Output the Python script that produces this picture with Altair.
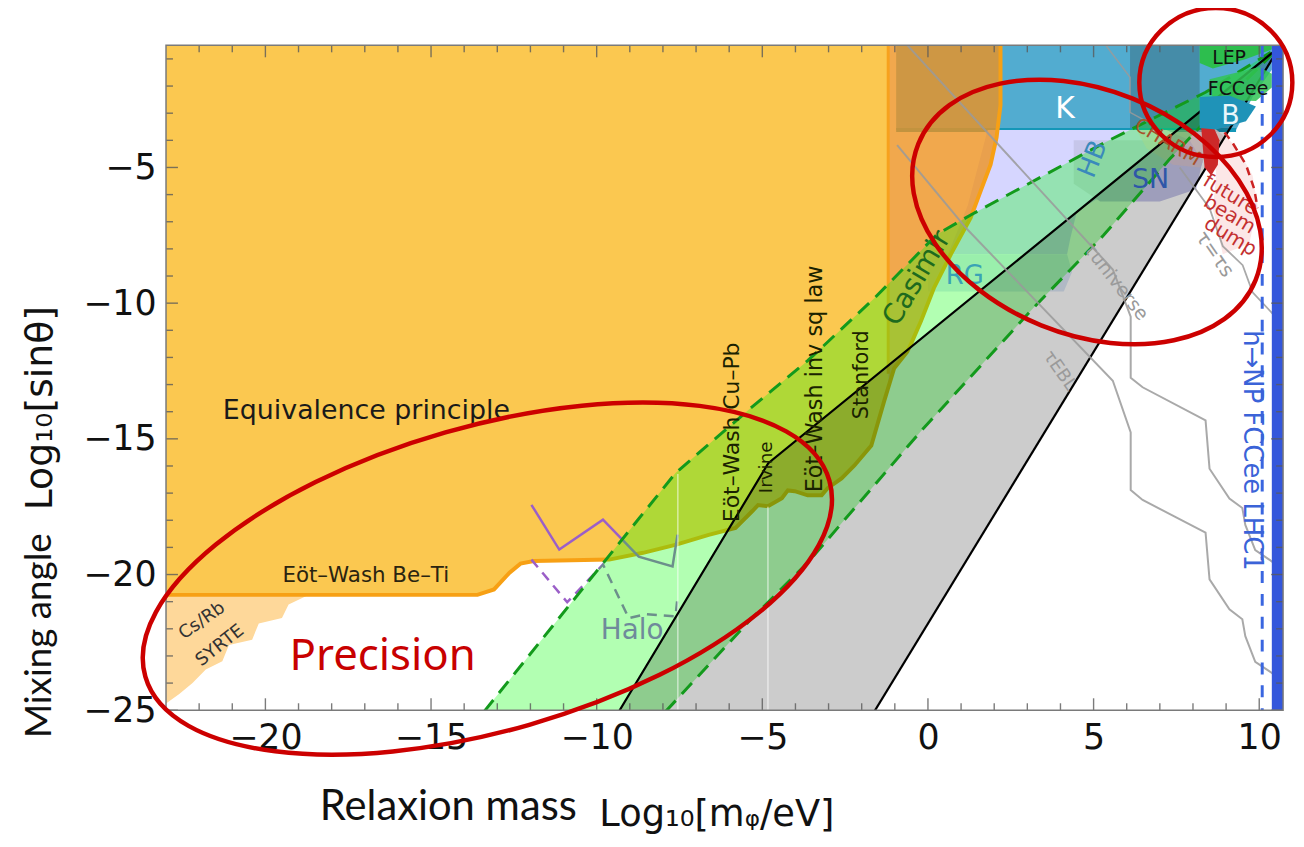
import altair as alt
import pandas as pd

# ---------------- plot geometry ----------------
W, H = 1124, 669
X_DOMAIN = [-23.0, 10.72]
Y_DOMAIN = [-25.0, -0.5]

X_MAJOR = [-20, -15, -10, -5, 0, 5, 10]
Y_MAJOR = [-25, -20, -15, -10, -5]
X_MINOR = [v for v in range(-22, 11) if v not in X_MAJOR]
Y_MINOR = [v for v in range(-24, 0) if v not in Y_MAJOR]

# ---------------- regions (log10 m/eV, log10 sin theta) ----------------
EP_X = [-23, -1.2, -1.2, -1.32, -1.71, -2.22, -2.61, -3.03, -3.21, -3.63, -4.02, -4.23, -4.41,
        -4.83, -5.13, -5.3, -5.81, -6.62, -7.6, -8.6, -9.62, -11.9, -12.3, -12.63, -13.1, -13.6, -23]
EP_Y = [-0.5, -0.5, -13.1, -13.6, -15.25, -15.98, -16.46, -16.82, -17.08, -17.08, -16.93, -16.9, -17.19,
        -17.48, -17.44, -17.66, -18.28, -18.54, -18.9, -19.2, -19.45, -19.5, -19.6, -19.93, -20.55, -20.75, -20.75]

CAS_X = [-1.2, 2.19, 2.19, 2.07, 1.89, 1.59, 1.29, 0.69, 0.18, -0.21, -0.51, -0.63, -1.02, -1.2]
CAS_Y = [-0.5, -0.5, -2.7, -3.9, -4.9, -5.87, -6.85, -8.2, -9.44, -10.66, -11.5, -11.8, -12.4, -13.1]

SY_X = [-23, -18.7, -19.3, -19.5, -20.2, -20.4, -21.1, -21.3, -21.8, -22.2, -22.6, -23]
SY_Y = [-20.75, -20.75, -21.1, -21.6, -21.8, -22.4, -22.6, -23.2, -23.5, -24.0, -24.4, -24.75]

K_X = [-0.96, 10.38, 10.38, 9.8, 9.3, -0.96]
K_Y = [-0.5, -0.5, -1.4, -2.4, -3.62, -3.62]
KDARK_X = [6.1, 8.2, 8.2, 6.1]
KDARK_Y = [-0.5, -0.5, -3.55, -3.55]

LAV_X = [1.8, 7.2, 7.9, 8.3, 8.0, 6.5, 5.2, 4.5, 4.3, 4.2, 0.6, 1.2]
LAV_Y = [-3.62, -3.62, -4.0, -4.8, -5.6, -6.0, -6.1, -6.6, -7.6, -8.2, -8.2, -6.4]
RG_X = [0.0, 4.2, 4.35, 4.1, 0.0]
RG_Y = [-8.2, -8.2, -8.85, -9.57, -9.57]
SN_X = [4.4, 7.6, 8.3, 8.1, 7.0, 5.2, 4.4]
SN_Y = [-4.0, -4.0, -4.7, -5.8, -6.25, -6.25, -5.6]
CH_X = [6.3, 8.3, 8.4, 8.2, 7.4, 6.6]
CH_Y = [-3.62, -3.62, -4.5, -5.0, -4.9, -4.3]
RB_X = [8.25, 8.6, 8.8, 8.75, 8.55, 8.35, 8.3]
RB_Y = [-3.55, -3.45, -4.0, -4.9, -5.3, -5.0, -4.3]
BD_X = [8.6, 9.3, 9.8, 9.95, 9.7, 8.9, 8.6, 8.7]
BD_Y = [-3.5, -4.2, -5.3, -6.4, -7.8, -8.2, -6.5, -5.3]
BDL_X = [8.7, 9.2, 9.6, 9.85, 9.95]
BDL_Y = [-3.3, -4.1, -4.9, -5.8, -6.5]

LEP_X = [8.2, 10.38, 10.38, 9.6, 8.6, 8.2]
LEP_Y = [-0.5, -0.5, -0.65, -1.0, -1.35, -1.15]
FCC_X = [8.5, 10.0, 10.38, 10.38, 9.9, 8.6]
FCC_Y = [-1.75, -1.3, -1.55, -2.05, -2.55, -2.5]
B_X = [8.2, 9.1, 9.9, 9.6, 8.7, 8.2]
B_Y = [-2.4, -2.35, -2.75, -3.3, -3.6, -3.55]

BLUE_X = [10.38, 10.72, 10.72, 10.38]
BLUE_Y = [-0.5, -0.5, -25, -25]
BLUE_DASH_X = [10.09, 10.09]
BLUE_DASH_Y = [-0.5, -25]

UP_X = [-13.4, -9.72, -7.62, -5.43, -3.63, -1.62, 0.27, 1.29, 5.37, 8.38, 10.62]
UP_Y = [-25.05, -19.45, -16.26, -13.95, -12.12, -9.82, -7.47, -6.75, -4.06, -2.23, -0.55]
LO_X = [-7.92, -5.43, -3.63, -0.2, 3.18, 5.3, 7.29, 9.0, 10.62]
LO_Y = [-25.05, -21.76, -19.56, -14.7, -10.18, -7.5, -4.7, -2.5, -0.55]

LB_X = [-9.33, -4.82, 10.62]
LB_Y = [-25.05, -15.9, -0.55]
RBL_X = [-1.62, 10.62]
RBL_Y = [-25.05, -0.55]

PURP_X = [-11.97, -11.13, -9.81, -8.73, -7.71, -7.56]
PURP_Y = [-17.43, -19.08, -17.98, -19.34, -19.7, -18.53]
PURPD_X = [-11.97, -10.89, -9.81, -9.03, -8.52, -7.62, -7.56]
PURPD_Y = [-19.45, -21.02, -19.63, -21.61, -21.46, -21.54, -20.84]

FAINT_X = [-7.55, -4.83]
FAINT_TOP = [-16.3, -17.5]

TU_X = [-0.62, 5.58, 6.12, 6.12, 6.48, 8.38, 8.5, 9.1, 9.49, 9.58, 9.88, 10.72]
TU_Y = [-0.5, -8.76, -10.5, -12.75, -13.1, -14.32, -16.1, -17.2, -17.55, -18.17, -19.1, -19.8]
TE_X = [-0.93, 1.17, 5.58, 6.12, 6.12, 6.48, 8.38, 8.5, 9.1, 9.49, 9.58, 9.88, 10.72]
TE_Y = [-4.18, -7.26, -12.86, -14.76, -16.89, -17.25, -18.46, -20.18, -21.28, -21.65, -22.27, -23.22, -23.9]
TS1_X = [5.37, 6.1, 6.1, 6.6]
TS1_Y = [-0.5, -1.68, -2.97, -3.3]
TS2_X = [7.6, 8.5, 8.9, 9.5, 9.8, 10.72]
TS2_Y = [-5.0, -6.5, -7.9, -8.6, -9.6, -10.8]

# ---------------- labels ----------------
LBL_TEXT = ["Equivalence principle", "Eöt–Wash Be–Ti", "Cs/Rb", "SYRTE", "Halo",
            "Eöt–Wash Cu–Pb", "Irvine", "Eöt–Wash inv sq law", "Stanford", "Casimir",
            "RG", "K", "HB", "SN", "CHARM", "LEP", "FCCee", "B", "future", "beam", "dump",
            "τ=τs", "τuniverse", "τEBL", "h→NP FCCee LHC1"]
LBL_X = [-16.95, -16.97, -21.91, -21.37, -8.93, -5.91, -4.89, -3.42, -2.0, -0.32,
         1.11, 4.14, 4.98, 6.72, 7.23, 9.09, 9.36, 9.13, 9.13, 9.10, 9.13,
         8.65, 5.67, 3.97, 9.78]
LBL_Y = [-13.99, -20.07, -21.71, -22.62, -22.1, -14.76, -16.05, -12.79, -12.64, -9.09,
         -9.01, -2.86, -4.69, -5.46, -4.07, -0.95, -2.12, -3.1, -6.01, -6.74, -7.55,
         -8.2, -9.2, -12.5, -15.43]
LBL_ANGLE = [0, 0, 325, 322, 0, 270, 270, 270, 270, 301,
             0, 0, 292, 0, 31, 0, 0, 0, 31, 31, 31,
             55, 52, 55, 90]
LBL_SIZE = [27, 21.5, 18, 18, 28, 22, 18.5, 22.5, 21, 28,
            26, 30, 26, 27, 20, 19, 19, 27, 20, 20, 20,
            20, 19, 18, 26]
LBL_COLOR = ["#1a1a1a", "#2a2410", "#333333", "#333333", "#6f8a9b", "#1a2200", "#1a2200", "#1a2200",
             "#1a2200", "#1e6b1e", "#3aa3b5", "#ffffff", "#3a8abb", "#2e56a8", "#a8502a", "#111111",
             "#111111", "#eaf6fa", "#c43030", "#c43030", "#c43030", "#9a9a9a", "#9a9a9a", "#9a9a9a",
             "#3b63d8"]

# annotation ellipses: centre (data), semi-axes (px), rotation (deg, clockwise)
ELL_X = [8.69, 4.80, -13.30]
ELL_Y = [-1.87, -6.64, -20.15]
ELL_A = [77, 183, 358]
ELL_B = [75, 123, 153]
ELL_ROT = [0, 22, 344]

RED = "#cc0000"
TITLE_FONT = "Lato"

# ---------------- encodings ----------------
x_axis = alt.Axis(values=X_MAJOR, labelFontSize=35, labelFont="DejaVu Sans", labelColor="#111",
                  ticks=False, tickSize=0, domain=False, grid=False, labelPadding=11,
                  labelFlush=False, labelOverlap=False, title=None)
y_axis = alt.Axis(values=Y_MAJOR, labelFontSize=35, labelFont="DejaVu Sans", labelColor="#111",
                  ticks=False, tickSize=0, domain=False, grid=False, labelPadding=10,
                  labelFlush=False, labelOverlap=False, title=None)
X = alt.X("x:Q", scale=alt.Scale(domain=X_DOMAIN, nice=False, zero=False), axis=x_axis)
Y = alt.Y("y:Q", scale=alt.Scale(domain=Y_DOMAIN, nice=False, zero=False), axis=y_axis)


def pts(xs, ys):
    return pd.DataFrame({"x": xs, "y": ys, "i": list(range(len(xs)))})


def poly(xs, ys, color, opacity=1.0):
    return alt.Chart(pts(xs, ys)).mark_line(
        fill=color, fillOpacity=opacity, stroke=color, strokeOpacity=0, strokeWidth=0,
        interpolate="linear-closed", clip=True
    ).encode(x=X, y=Y, order="i:Q")


def path(xs, ys, color, width, dash=None, opacity=1.0):
    kw = dict(color=color, strokeWidth=width, opacity=opacity, clip=True)
    if dash:
        kw["strokeDash"] = dash
    return alt.Chart(pts(xs, ys)).mark_line(**kw).encode(x=X, y=Y, order="i:Q")


layers = []
layers.append(poly(EP_X, EP_Y, "#fbc850"))
layers.append(poly(SY_X, SY_Y, "#fed89a"))
layers.append(poly(K_X, K_Y, "#52acd0"))
layers.append(path([K_X[0], 9.3], [-3.62, -3.62], "#1497b8", 4))
layers.append(poly(KDARK_X, KDARK_Y, "#2f4f5f", 0.35))
layers.append(poly(LAV_X, LAV_Y, "#d6d6ff"))
layers.append(poly(RG_X, RG_Y, "#dde8f7"))
layers.append(poly(SN_X, SN_Y, "#c6c6ea"))
layers.append(poly(CH_X, CH_Y, "#e6c8c8", 0.6))
layers.append(poly(CAS_X, CAS_Y, "#ee9220", 0.8))

# orange boundary of the equivalence principle / Casimir region
border_x = EP_X[3:][::-1] + CAS_X[::-1][1:]
border_y = EP_Y[3:][::-1] + CAS_Y[::-1][1:]
border_x, border_y = border_x[:-1], border_y[:-1]
layers.append(path(border_x, border_y, "#f7a014", 4))
layers.append(path([-1.2, -1.2], [-0.5, -12.6], "#f7a21e", 3))

layers.append(path(PURP_X, PURP_Y, "#9b5fc8", 2.5))
layers.append(path(PURPD_X, PURPD_Y, "#9b5fc8", 2.5, dash=[10, 7]))
layers.append(poly(BD_X, BD_Y, "#fbe3e3", 0.85))

# green band and grey band
layers.append(poly(UP_X + LO_X[::-1][1:], UP_Y + LO_Y[::-1][1:], "#00ff00", 0.3))
layers.append(poly(LB_X + RBL_X[::-1][1:], LB_Y + RBL_Y[::-1][1:], "#000000", 0.2))

for fx, ft in zip(FAINT_X, FAINT_TOP):
    layers.append(path([fx, fx], [ft, -25], "#ffffff", 1.5, opacity=0.55))

layers.append(path(UP_X, UP_Y, "#139a1c", 3, dash=[15, 9]))
layers.append(path(LO_X, LO_Y, "#139a1c", 3, dash=[15, 9]))
layers.append(path(LB_X, LB_Y, "#000000", 2.2))
layers.append(path(RBL_X, RBL_Y, "#000000", 2.2))

layers.append(path(TU_X, TU_Y, "#9a9a9a", 2, opacity=0.85))
layers.append(path(TE_X, TE_Y, "#9a9a9a", 2, opacity=0.85))
layers.append(path(TS1_X, TS1_Y, "#9a9a9a", 1.6, opacity=0.85))
layers.append(path(TS2_X, TS2_Y, "#9a9a9a", 1.8, opacity=0.85))

layers.append(poly(RB_X, RB_Y, "#cc2929"))
layers.append(path(BDL_X, BDL_Y, "#cc2222", 2.5, dash=[8, 6]))
layers.append(poly(LEP_X, LEP_Y, "#2dbe4e"))
layers.append(poly(FCC_X, FCC_Y, "#33c455", 0.85))
layers.append(poly(B_X, B_Y, "#1f93b8"))

layers.append(poly(BLUE_X, BLUE_Y, "#3457db"))
layers.append(path(BLUE_DASH_X, BLUE_DASH_Y, "#3a66e0", 3, dash=[12, 11]))

# labels
lbl = pd.DataFrame({"x": LBL_X, "y": LBL_Y, "t": LBL_TEXT, "a": LBL_ANGLE,
                    "s": LBL_SIZE, "c": LBL_COLOR})
layers.append(alt.Chart(lbl).mark_text(font="DejaVu Sans", align="center", baseline="middle").encode(
    x=X, y=Y, text="t:N",
    angle=alt.Angle("a:Q", scale=None),
    size=alt.Size("s:Q", scale=None),
    color=alt.Color("c:N", scale=None),
))

# inward ticks on all four sides
TICK_C = "#5a5a5a"
for vals, L in [(X_MAJOR, 12), (X_MINOR, 7)]:
    d = pd.DataFrame({"x": vals})
    layers.append(alt.Chart(d).mark_rule(color=TICK_C, strokeWidth=1.4, opacity=0.8).encode(
        x=X, y=alt.value(H), y2=alt.value(H - L)))
    layers.append(alt.Chart(d).mark_rule(color=TICK_C, strokeWidth=1.4, opacity=0.8).encode(
        x=X, y=alt.value(0), y2=alt.value(L)))
for vals, L in [(Y_MAJOR, 12), (Y_MINOR, 7)]:
    d = pd.DataFrame({"y": vals})
    layers.append(alt.Chart(d).mark_rule(color=TICK_C, strokeWidth=1.4, opacity=0.8).encode(
        y=Y, x=alt.value(0), x2=alt.value(L)))
    layers.append(alt.Chart(d).mark_rule(color=TICK_C, strokeWidth=1.4, opacity=0.8).encode(
        y=Y, x=alt.value(W), x2=alt.value(W - L)))

frame = alt.Chart(pd.DataFrame({"k": [0]})).mark_rect(
    fillOpacity=0, stroke="#7a7a7a", strokeWidth=1.5
).encode(x=alt.value(0), x2=alt.value(W), y=alt.value(0), y2=alt.value(H))
layers.append(frame)

# red annotation ellipses
for cx, cy, a, b, rot in zip(ELL_X, ELL_Y, ELL_A, ELL_B, ELL_ROT):
    r = b / a
    shape = f"M -1 0 A 1 {r:.4f} 0 1 1 1 0 A 1 {r:.4f} 0 1 1 -1 0 Z"
    layers.append(alt.Chart(pd.DataFrame({"x": [cx], "y": [cy]})).mark_point(
        shape=shape, size=(2 * a) ** 2, angle=rot, filled=False, color=RED,
        stroke=RED, strokeWidth=4.5, opacity=1
    ).encode(x=X, y=Y))

layers.append(alt.Chart(pd.DataFrame({"x": [-16.46], "y": [-23.03], "t": ["Precision"]})).mark_text(
    font="Noto Sans", fontSize=44, color="#c80000", align="center", baseline="middle"
).encode(x=X, y=Y, text="t:N"))


# axis titles
def title_text(t, xv, yv, font, size, angle=0, align="center", weight=400):
    kw = dict(font=font, fontSize=size, color="#111", align=align, baseline="alphabetic",
              fontWeight=weight)
    if angle:
        kw["angle"] = angle
    return alt.Chart(pd.DataFrame({"t": [t]})).mark_text(**kw).encode(
        text="t:N", x=alt.value(xv), y=alt.value(yv))


layers.append(title_text("Relaxion mass", 284, 779, TITLE_FONT, 42))
layers.append(title_text("Log₁₀[mᵩ/eV]", 436, 786, "DejaVu Sans", 37, align="left"))
layers.append(title_text("Mixing angle", -116, 594, TITLE_FONT, 37, angle=270))
layers.append(title_text("Log₁₀[sinθ]", -115, 365, "DejaVu Sans", 38, angle=270))

chart = alt.layer(*layers).properties(
    width=W, height=H,
    autosize=alt.AutoSizeParams(type="none"),
    padding={"left": 159, "top": 35, "right": 13, "bottom": 127},
).configure_view(strokeWidth=0)

chart.save("out.html", embed_options={"renderer": "svg", "actions": False})
